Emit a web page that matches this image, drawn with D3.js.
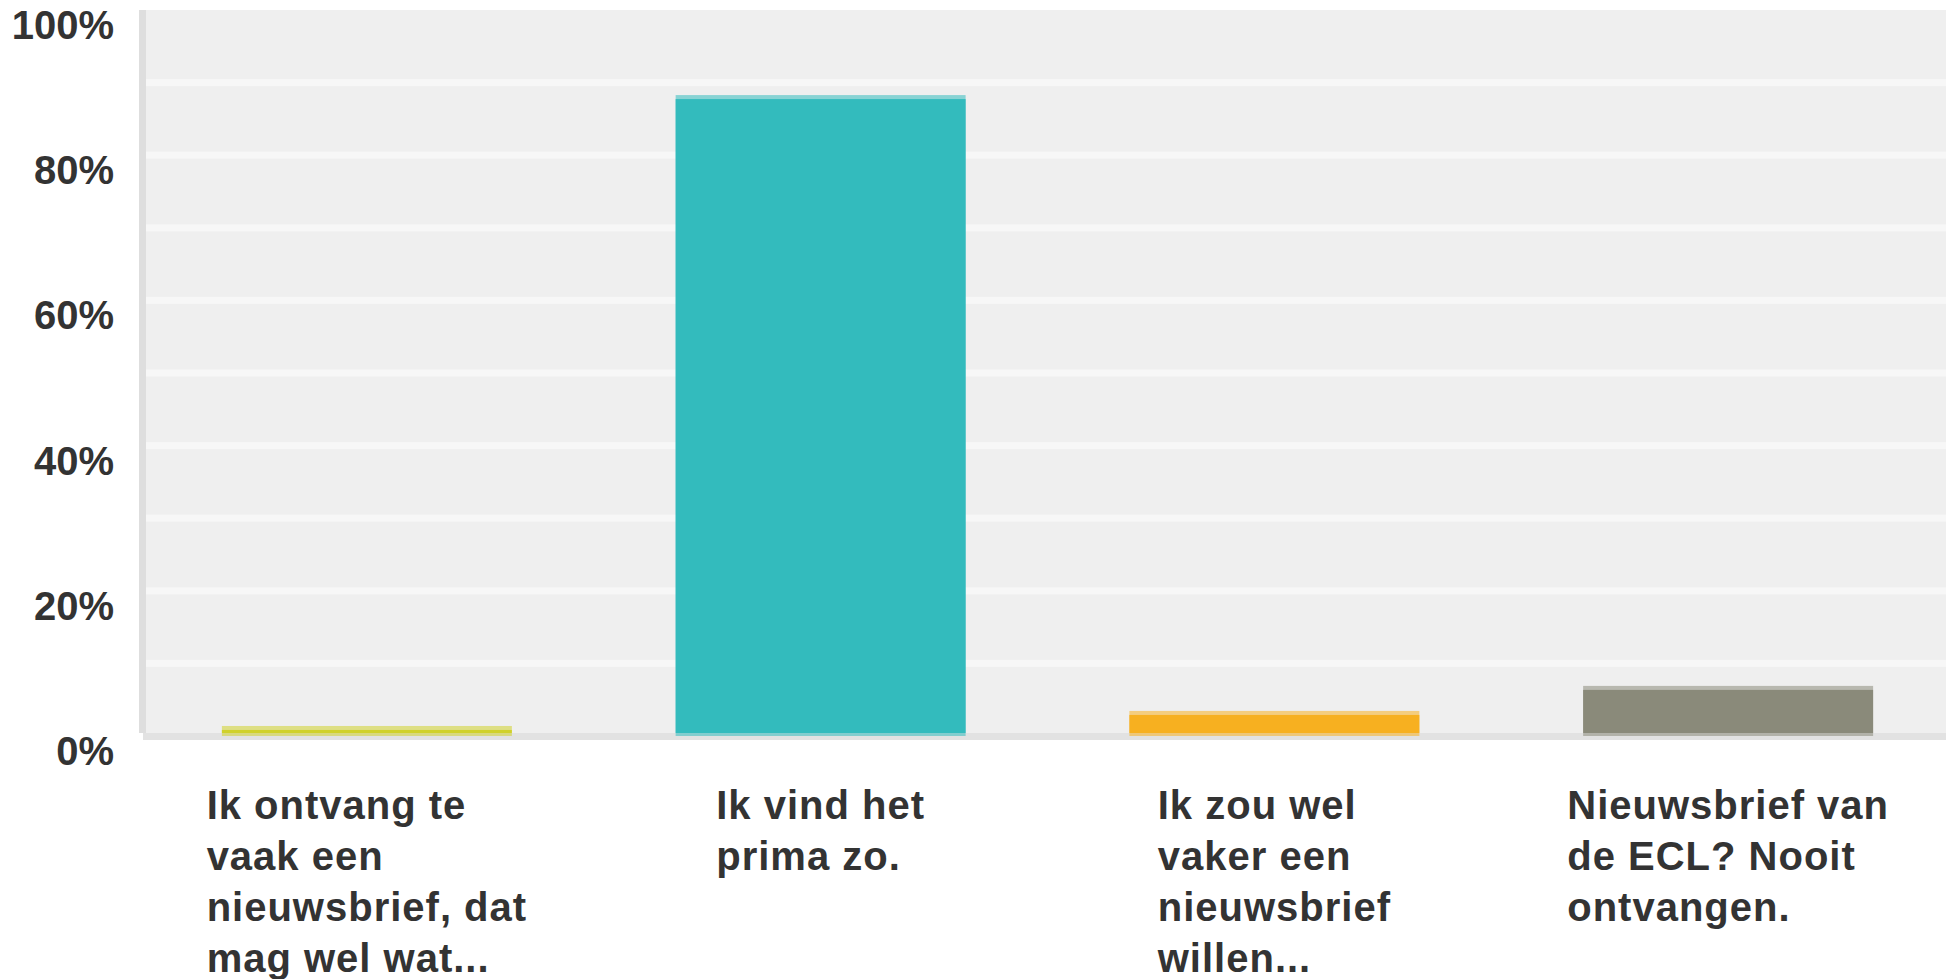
<!DOCTYPE html>
<html>
<head>
<meta charset="utf-8">
<script src="https://cdn.jsdelivr.net/npm/d3@7"></script>
<style>
	body { margin: 0; background: #fff; }
	text { font-family: "Liberation Sans", Arial, sans-serif; fill: #333; font-weight: bold; }
</style>
</head>
<body>
<div id="chart"></div>
<script>
var categories = [
	"Ik ontvang te\nvaak een\nnieuwsbrief, dat\nmag wel wat...",
	"Ik vind het\nprima zo.",
	"Ik zou wel\nvaker een\nnieuwsbrief\nwillen...",
	"Nieuwsbrief van\nde ECL? Nooit\nontvangen."
];
var percentages = [1.38, 88.28, 3.45, 6.90];
var barColors = ["#d0d12a", "#33bbbd", "#f7b020", "#8a8a7a"];
var yTicks = [0, 20, 40, 60, 80, 100];
var gridTicks = [10, 20, 30, 40, 50, 60, 70, 80, 90];

var width = 1946,
	height = 979,
	plotLeft = 146,
	plotTop = 10,
	baseY = 736;

var svg = d3.select('#chart').append('svg')
	.attr('width', width)
	.attr('height', height);

var x = d3.scaleBand()
	.domain(d3.range(categories.length))
	.range([140, 1955])
	.paddingInner(0.361)
	.paddingOuter(0.1805);

var y = d3.scaleLinear()
	.domain([0, 100])
	.range([baseY, plotTop]);

// plot background
svg.append('rect')
	.attr('x', plotLeft)
	.attr('y', plotTop)
	.attr('width', width - plotLeft)
	.attr('height', baseY - 3 - plotTop)
	.style('fill', '#efefef');

// gridlines every 10%
svg.selectAll('.grid')
	.data(gridTicks)
	.enter().append('rect')
	.attr('class', 'grid')
	.attr('x', plotLeft)
	.attr('y', function(d) { return y(d) - 3.5; })
	.attr('width', width - plotLeft)
	.attr('height', 7)
	.style('fill', '#f7f7f7');

// axis lines
svg.append('rect')
	.attr('x', 139)
	.attr('y', plotTop)
	.attr('width', 7)
	.attr('height', baseY - 3 - plotTop)
	.style('fill', '#dedede');

svg.append('rect')
	.attr('x', 143)
	.attr('y', baseY - 3)
	.attr('width', width - 143)
	.attr('height', 7)
	.style('fill', '#e2e2e2');

// y labels
svg.selectAll('.ylabel')
	.data(yTicks)
	.enter().append('text')
	.attr('class', 'ylabel')
	.attr('x', 114)
	.attr('y', function(d) { return y(d) + 29; })
	.attr('text-anchor', 'end')
	.style('font-size', '40px')
	.text(function(d) { return d + '%'; });

// bars
var bar = svg.selectAll('.bar')
	.data(percentages)
	.enter().append('g')
	.attr('class', 'bar');

bar.append('rect')
	.attr('x', function(d, i) { return x(i); })
	.attr('y', function(d) { return y(d); })
	.attr('width', x.bandwidth())
	.attr('height', function(d) { return baseY - y(d); })
	.style('fill', function(d, i) { return barColors[i]; })
	.style('opacity', 0.55);

bar.append('rect')
	.attr('x', function(d, i) { return x(i); })
	.attr('y', function(d) { return y(d) + 4; })
	.attr('width', x.bandwidth())
	.attr('height', function(d) { return Math.max(0, baseY - 3 - y(d) - 4); })
	.style('fill', function(d, i) { return barColors[i]; });

// category labels, lines left aligned, block centred on the bar
var label = svg.selectAll('.cat')
	.data(categories)
	.enter().append('text')
	.attr('class', 'cat')
	.style('font-size', '40px')
	.style('letter-spacing', '1px');

label.each(function(d, i) {
	var t = d3.select(this);
	d.split('\n').forEach(function(line, k) {
		t.append('tspan')
			.attr('x', 0)
			.attr('y', baseY + 83 + k * 51)
			.text(line);
	});
	var w = d3.max(t.selectAll('tspan').nodes(), function(n) { return n.getComputedTextLength(); });
	t.attr('transform', 'translate(' + (x(i) + x.bandwidth() / 2 - w / 2) + ',0)');
});
</script>
</body>
</html>
